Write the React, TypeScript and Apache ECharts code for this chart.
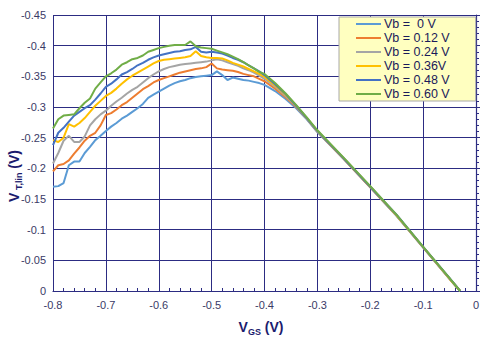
import React, { useEffect, useRef } from "react";
import * as echarts from "echarts";

// Gate voltage samples (V)
const xValues = [
  -0.8, -0.79, -0.78, -0.77, -0.76, -0.75, -0.74, -0.73, -0.72, -0.71,
  -0.7, -0.69, -0.68, -0.67, -0.66, -0.65, -0.64, -0.63, -0.62, -0.61,
  -0.6, -0.59, -0.58, -0.57, -0.56, -0.55, -0.54, -0.53, -0.52, -0.51,
  -0.5, -0.49, -0.48, -0.47, -0.46, -0.45, -0.44, -0.43, -0.42, -0.41,
  -0.4, -0.38, -0.36, -0.34, -0.32, -0.3, -0.25, -0.2, -0.15, -0.1, -0.05, -0.03,
];

const vb000 = [
  -0.17, -0.171, -0.176, -0.205, -0.211, -0.211, -0.225, -0.235, -0.246, -0.253,
  -0.261, -0.268, -0.274, -0.281, -0.286, -0.292, -0.298, -0.305, -0.315, -0.32,
  -0.325, -0.33, -0.335, -0.339, -0.342, -0.344, -0.347, -0.349, -0.35, -0.351,
  -0.352, -0.358, -0.352, -0.344, -0.348, -0.346, -0.344, -0.343, -0.341, -0.339,
  -0.336, -0.326, -0.313, -0.298, -0.28, -0.259, -0.215, -0.169, -0.122, -0.071, -0.02, 0,
];
const vb012 = [
  -0.195, -0.205, -0.207, -0.213, -0.224, -0.234, -0.245, -0.253, -0.258, -0.27,
  -0.287, -0.29, -0.296, -0.303, -0.308, -0.315, -0.322, -0.329, -0.334, -0.34,
  -0.344, -0.347, -0.35, -0.353, -0.356, -0.358, -0.36, -0.362, -0.363, -0.365,
  -0.371, -0.363, -0.361, -0.36, -0.359, -0.357, -0.354, -0.352, -0.35, -0.346,
  -0.342, -0.33, -0.316, -0.3, -0.281, -0.26, -0.215, -0.169, -0.123, -0.071, -0.02, 0,
];
const vb024 = [
  -0.208, -0.225, -0.245, -0.253, -0.243, -0.243, -0.252, -0.27, -0.28, -0.288,
  -0.294, -0.302, -0.309, -0.315, -0.322, -0.328, -0.333, -0.34, -0.347, -0.353,
  -0.358, -0.362, -0.365, -0.367, -0.369, -0.37, -0.371, -0.372, -0.373, -0.374,
  -0.376, -0.378, -0.376, -0.373, -0.37, -0.367, -0.363, -0.36, -0.356, -0.351,
  -0.346, -0.333, -0.318, -0.301, -0.281, -0.26, -0.216, -0.17, -0.123, -0.071, -0.02, 0,
];
const vb036 = [
  -0.246, -0.243, -0.25, -0.272, -0.268, -0.274, -0.282, -0.292, -0.302, -0.31,
  -0.318, -0.323, -0.33, -0.338, -0.345, -0.351, -0.356, -0.361, -0.366, -0.371,
  -0.375, -0.377, -0.378, -0.379, -0.38, -0.381, -0.383, -0.391, -0.383, -0.381,
  -0.38, -0.38, -0.379, -0.376, -0.372, -0.369, -0.366, -0.362, -0.358, -0.354,
  -0.349, -0.335, -0.32, -0.302, -0.282, -0.261, -0.216, -0.17, -0.123, -0.072, -0.02, 0,
];
const vb048 = [
  -0.238, -0.258, -0.266, -0.276, -0.286, -0.292, -0.298, -0.303, -0.312, -0.322,
  -0.333, -0.338, -0.345, -0.353, -0.357, -0.362, -0.368, -0.372, -0.377, -0.381,
  -0.384, -0.386, -0.388, -0.39, -0.391, -0.393, -0.394, -0.398, -0.39, -0.389,
  -0.39, -0.389, -0.387, -0.384, -0.38, -0.377, -0.373, -0.368, -0.363, -0.358,
  -0.352, -0.337, -0.321, -0.302, -0.282, -0.261, -0.216, -0.17, -0.124, -0.072, -0.021, 0,
];
const vb060 = [
  -0.265, -0.28, -0.286, -0.287, -0.288, -0.298, -0.307, -0.314, -0.33, -0.34,
  -0.35, -0.355, -0.361, -0.369, -0.373, -0.378, -0.38, -0.384, -0.39, -0.393,
  -0.396, -0.398, -0.4, -0.401, -0.401, -0.401, -0.407, -0.399, -0.397, -0.396,
  -0.395, -0.392, -0.389, -0.386, -0.382, -0.378, -0.373, -0.368, -0.363, -0.357,
  -0.354, -0.339, -0.322, -0.303, -0.283, -0.262, -0.217, -0.171, -0.124, -0.072, -0.021, 0,
];

const seriesNames = ["Vb =  0 V", "Vb = 0.12 V", "Vb = 0.24 V", "Vb = 0.36V", "Vb = 0.48 V", "Vb = 0.60 V"];
const seriesValues = [vb000, vb012, vb024, vb036, vb048, vb060];
const seriesColors = ["#5B9BD5", "#ED7D31", "#A5A5A5", "#FFC000", "#4472C4", "#70AD47"];

const gridColor = "#2c2c82";
const labelColor = "#3a3a66";
const titleColor = "#1c1c6e";

export default function App() {
  const ref = useRef<HTMLDivElement>(null);

  useEffect(() => {
    document.body.style.margin = "0";
    if (!ref.current) return;
    const chart = echarts.init(ref.current, null, { renderer: "svg" });
    chart.setOption({
      animation: false,
      backgroundColor: "#ffffff",
      grid: { left: 53, right: 12, top: 15, bottom: 61 },
      legend: {
        orient: "vertical",
        left: 339,
        top: 17,
        padding: [0, 26, 0, 17],
        icon: "rect",
        itemWidth: 25,
        itemHeight: 2,
        itemGap: 0,
        backgroundColor: "#ffffc0",
        borderColor: "#a8a8a8",
        borderWidth: 1,
        borderRadius: 0,
        textStyle: {
          fontFamily: "Liberation Sans, Arial",
          fontSize: 12.5,
          lineHeight: 14,
          color: "#1a1a5a",
          padding: [0, 0, 0, -2],
        },
        data: seriesNames,
      },
      xAxis: {
        type: "value",
        min: -0.8,
        max: 0,
        interval: 0.1,
        axisLine: { lineStyle: { color: gridColor, width: 1.2 } },
        axisTick: { show: true, inside: true, length: 4, lineStyle: { color: gridColor } },
        minorTick: { show: true, splitNumber: 5, length: 3, lineStyle: { color: gridColor } },
        splitLine: { show: true, lineStyle: { color: gridColor, width: 1 } },
        axisLabel: {
          color: labelColor,
          fontFamily: "Liberation Sans, Arial",
          fontSize: 11,
          margin: 8,
          formatter: (v: number) => String(+v.toFixed(1)),
        },
      },
      yAxis: {
        type: "value",
        inverse: true,
        min: -0.45,
        max: 0,
        interval: 0.05,
        axisLine: { show: true, lineStyle: { color: gridColor, width: 1.2 } },
        axisTick: { show: true, inside: true, length: 4, lineStyle: { color: gridColor } },
        minorTick: { show: true, splitNumber: 5, length: 3, lineStyle: { color: gridColor } },
        splitLine: { show: true, lineStyle: { color: gridColor, width: 1 } },
        axisLabel: {
          color: labelColor,
          fontFamily: "Liberation Sans, Arial",
          fontSize: 11,
          margin: 7,
          formatter: (v: number) => String(+v.toFixed(2)),
        },
      },
      series: seriesNames.map((name, k) => ({
        name,
        type: "line",
        symbol: "none",
        smooth: false,
        lineStyle: { color: seriesColors[k], width: 2 },
        itemStyle: { color: seriesColors[k] },
        data: xValues.map((x, i) => [x, seriesValues[k][i]]),
      })),
      graphic: [
        {
          type: "text",
          x: 14,
          y: 176,
          rotation: Math.PI / 2,
          style: {
            text: "{m|V}{s| T,lin}{m| (V)}",
            align: "center",
            verticalAlign: "middle",
            fill: titleColor,
            rich: {
              m: { fontSize: 14, fontWeight: "bold", fontFamily: "Liberation Sans, Arial", fill: titleColor, lineHeight: 18 },
              s: { fontSize: 9, fontWeight: "bold", fontFamily: "Liberation Sans, Arial", fill: titleColor, lineHeight: 18, verticalAlign: "bottom" },
            },
          },
        },
        {
          type: "text",
          x: 261,
          y: 327,
          style: {
            text: "{m|V}{s|GS}{m| (V)}",
            align: "center",
            verticalAlign: "middle",
            fill: titleColor,
            rich: {
              m: { fontSize: 14, fontWeight: "bold", fontFamily: "Liberation Sans, Arial", fill: titleColor, lineHeight: 18 },
              s: { fontSize: 9, fontWeight: "bold", fontFamily: "Liberation Sans, Arial", fill: titleColor, lineHeight: 18, verticalAlign: "bottom" },
            },
          },
        },
      ],
    });
    return () => chart.dispose();
  }, []);

  return <div ref={ref} style={{ width: 488, height: 352 }} />;
}
